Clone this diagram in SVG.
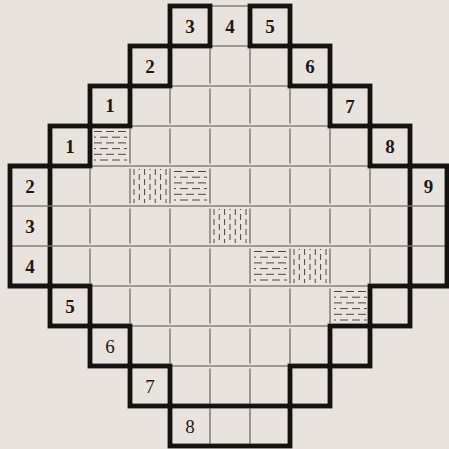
<svg xmlns="http://www.w3.org/2000/svg" width="449" height="449" viewBox="0 0 449 449">
<defs>
<style>
.thin{stroke:#55514d;stroke-width:1.1;fill:none}
.vthin{stroke:#4a4744;stroke-width:1;fill:none}
.thick{stroke:#141312;stroke-width:4.8;fill:none;stroke-linecap:square}
.hatch{stroke:#4a4643;stroke-width:1;fill:none}
.lbl{font-family:"Liberation Serif","Times New Roman",serif;font-size:19px;font-weight:bold;fill:#1a1918;text-anchor:middle}
.lbl.n{font-weight:normal}
</style>
<g id="hd">
<path class="hatch" stroke-dasharray="8 4" d="M4 5.5H37M4 16.9H37M4 28.3H37"/>
<path class="hatch" stroke-dasharray="8 4" stroke-dashoffset="6" d="M4 11.2H37M4 22.6H37M4 34H37"/>
</g>
<g id="vd">
<path class="hatch" stroke-dasharray="6 4" d="M4 3V37M14.6 3V37M25.3 3V37M36 3V37"/>
<path class="hatch" stroke-dasharray="6 4" stroke-dashoffset="5" d="M9.3 3V37M20 3V37M30.6 3V37"/>
</g>
</defs>
<rect width="449" height="449" fill="#e8e3dc"/>

<g id="grid">
<path class="thin" d="M170 6H290M130 46H330M90 86H370M50 126H410M10 166H447M10 206H447M10 246H447M10 286H447M50 326H410M90 366H370M130 406H330M170 446H290"/>
<path class="vthin" d="M210 8.5v35M250 8.5v35
M170 48.5v35M210 48.5v35M250 48.5v35M290 48.5v35
M130 88.5v35M170 88.5v35M210 88.5v35M250 88.5v35M290 88.5v35M330 88.5v35
M90 128.5v35M130 128.5v35M170 128.5v35M210 128.5v35M250 128.5v35M290 128.5v35M330 128.5v35M370 128.5v35
M50 168.5v35M90 168.5v35M130 168.5v35M170 168.5v35M210 168.5v35M250 168.5v35M290 168.5v35M330 168.5v35M370 168.5v35M410 168.5v35
M50 208.5v35M90 208.5v35M130 208.5v35M170 208.5v35M210 208.5v35M250 208.5v35M290 208.5v35M330 208.5v35M370 208.5v35M410 208.5v35
M50 248.5v35M90 248.5v35M130 248.5v35M170 248.5v35M210 248.5v35M250 248.5v35M290 248.5v35M330 248.5v35M370 248.5v35M410 248.5v35
M90 288.5v35M130 288.5v35M170 288.5v35M210 288.5v35M250 288.5v35M290 288.5v35M330 288.5v35M370 288.5v35
M130 328.5v35M170 328.5v35M210 328.5v35M250 328.5v35M290 328.5v35M330 328.5v35
M170 368.5v35M210 368.5v35M250 368.5v35M290 368.5v35
M210 408.5v35M250 408.5v35"/>
</g>

<g id="hatches">
<use href="#hd" transform="translate(90 126)"/>
<use href="#vd" transform="translate(130 166)"/>
<use href="#hd" transform="translate(170 166)"/>
<use href="#vd" transform="translate(210 206)"/>
<use href="#hd" transform="translate(250 246)"/>
<use href="#vd" transform="translate(290 246)"/>
<use href="#hd" transform="translate(330 286)"/>
</g>

<g id="borders">
<rect class="thick" x="170" y="6" width="40" height="40"/>
<rect class="thick" x="250" y="6" width="40" height="40"/>
<rect class="thick" x="130" y="46" width="40" height="40"/>
<rect class="thick" x="290" y="46" width="40" height="40"/>
<rect class="thick" x="90" y="86" width="40" height="40"/>
<rect class="thick" x="330" y="86" width="40" height="40"/>
<rect class="thick" x="50" y="126" width="40" height="40"/>
<rect class="thick" x="370" y="126" width="40" height="40"/>
<path class="thick" d="M50 166H10V286H50M50 166V203M50 209V243M50 249V286"/>
<path class="thick" d="M410 166H447V286H410M410 166V203M410 209V243M410 249V286"/>
<rect class="thick" x="50" y="286" width="40" height="40"/>
<rect class="thick" x="370" y="286" width="40" height="40"/>
<rect class="thick" x="90" y="326" width="40" height="40"/>
<rect class="thick" x="330" y="326" width="40" height="40"/>
<rect class="thick" x="130" y="366" width="40" height="40"/>
<rect class="thick" x="290" y="366" width="40" height="40"/>
<rect class="thick" x="170" y="406" width="120" height="40"/>
</g>

<g id="labels">
<g id="t3"><text class="lbl" x="190" y="32.5">3</text></g>
<g id="t4"><text class="lbl" x="230" y="32.5">4</text></g>
<g id="t5"><text class="lbl" x="270" y="32.5">5</text></g>
<g id="l2"><text class="lbl" x="150" y="72.5">2</text></g>
<g id="t6"><text class="lbl" x="310" y="72.5">6</text></g>
<g id="l1a"><text class="lbl" x="110" y="112">1</text></g>
<g id="t7"><text class="lbl" x="350" y="112.5">7</text></g>
<g id="l1b"><text class="lbl" x="70" y="152.5">1</text></g>
<g id="t8"><text class="lbl" x="390" y="152.5">8</text></g>
<g id="l2b"><text class="lbl" x="30" y="192.5">2</text></g>
<g id="t9"><text class="lbl" x="428.5" y="192.5">9</text></g>
<g id="l3"><text class="lbl" x="30" y="232.5">3</text></g>
<g id="l4"><text class="lbl" x="30" y="272.5">4</text></g>
<g id="l5"><text class="lbl" x="70" y="312.5">5</text></g>
<g id="l6"><text class="lbl n" x="110" y="352.5">6</text></g>
<g id="l7"><text class="lbl n" x="150" y="392.5">7</text></g>
<g id="l8"><text class="lbl n" x="190" y="432.5">8</text></g>
</g>
</svg>
